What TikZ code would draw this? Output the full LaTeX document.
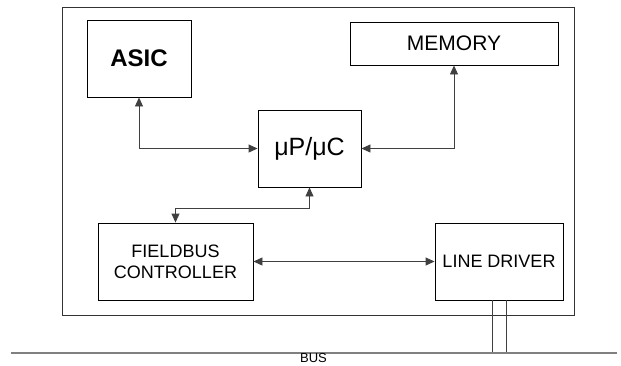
\documentclass[tikz,border=0pt]{standalone}
\usepackage{fontspec}
\setmainfont{Liberation Sans}
\usetikzlibrary{arrows.meta}
\begin{document}
\begin{tikzpicture}[x=1pt,y=-1pt,
  blk/.style={draw=black,line width=0.9pt,inner sep=0pt,align=center,text=black},
  conn/.style={draw=black!75,line width=0.9pt,{Triangle[length=9pt,width=8pt]}-{Triangle[length=9pt,width=8pt]}},
  plain/.style={draw=black!75,line width=0.9pt}]
\useasboundingbox (0,0) rectangle (621,365);
\node[blk,draw=black!80,minimum width=512pt,minimum height=308pt] (outer) at (318,161) {};
\node[blk,minimum width=104pt,minimum height=77pt,font=\fontsize{24}{28}\selectfont\bfseries] (asic) at (139,58.5) {ASIC};
\node[blk,minimum width=208pt,minimum height=43pt,font=\fontsize{21}{24}\selectfont] (mem) at (454,43.5) {MEMORY};
\node[blk,minimum width=103pt,minimum height=77pt,font=\fontsize{25}{28}\selectfont] (mu) at (309.5,148.5) {μP/μC};
\node[blk,minimum width=155pt,minimum height=77pt,font=\fontsize{18}{21}\selectfont] (fb) at (175.5,261.5) {FIELDBUS\\CONTROLLER};
\node[blk,minimum width=128pt,minimum height=77pt,font=\fontsize{18}{21}\selectfont] (ld) at (499,261.5) {LINE DRIVER};
\coordinate (busL) at (11,353);
\coordinate (busR) at (617,353);
\coordinate (tapA) at (492,353);
\coordinate (tapB) at (506,353);
\coordinate (bend) at (309.5,208);
\draw[conn] (asic.south) |- (mu.west);
\draw[conn] (mem.south) |- (mu.east);
\draw[conn] (mu.south) -- (bend) -| (fb.north);
\draw[conn] (fb.east) -- (ld.west);
\draw[plain] (ld.south -| tapA) -- (tapA);
\draw[plain] (ld.south -| tapB) -- (tapB);
\draw[draw=black!50,line width=1.6pt] (busL) -- (busR);
\node[anchor=base,inner sep=0pt,font=\fontsize{13}{15}\selectfont] (buslabel) at (313.5,362.5) {BUS};
\end{tikzpicture}
\end{document}
